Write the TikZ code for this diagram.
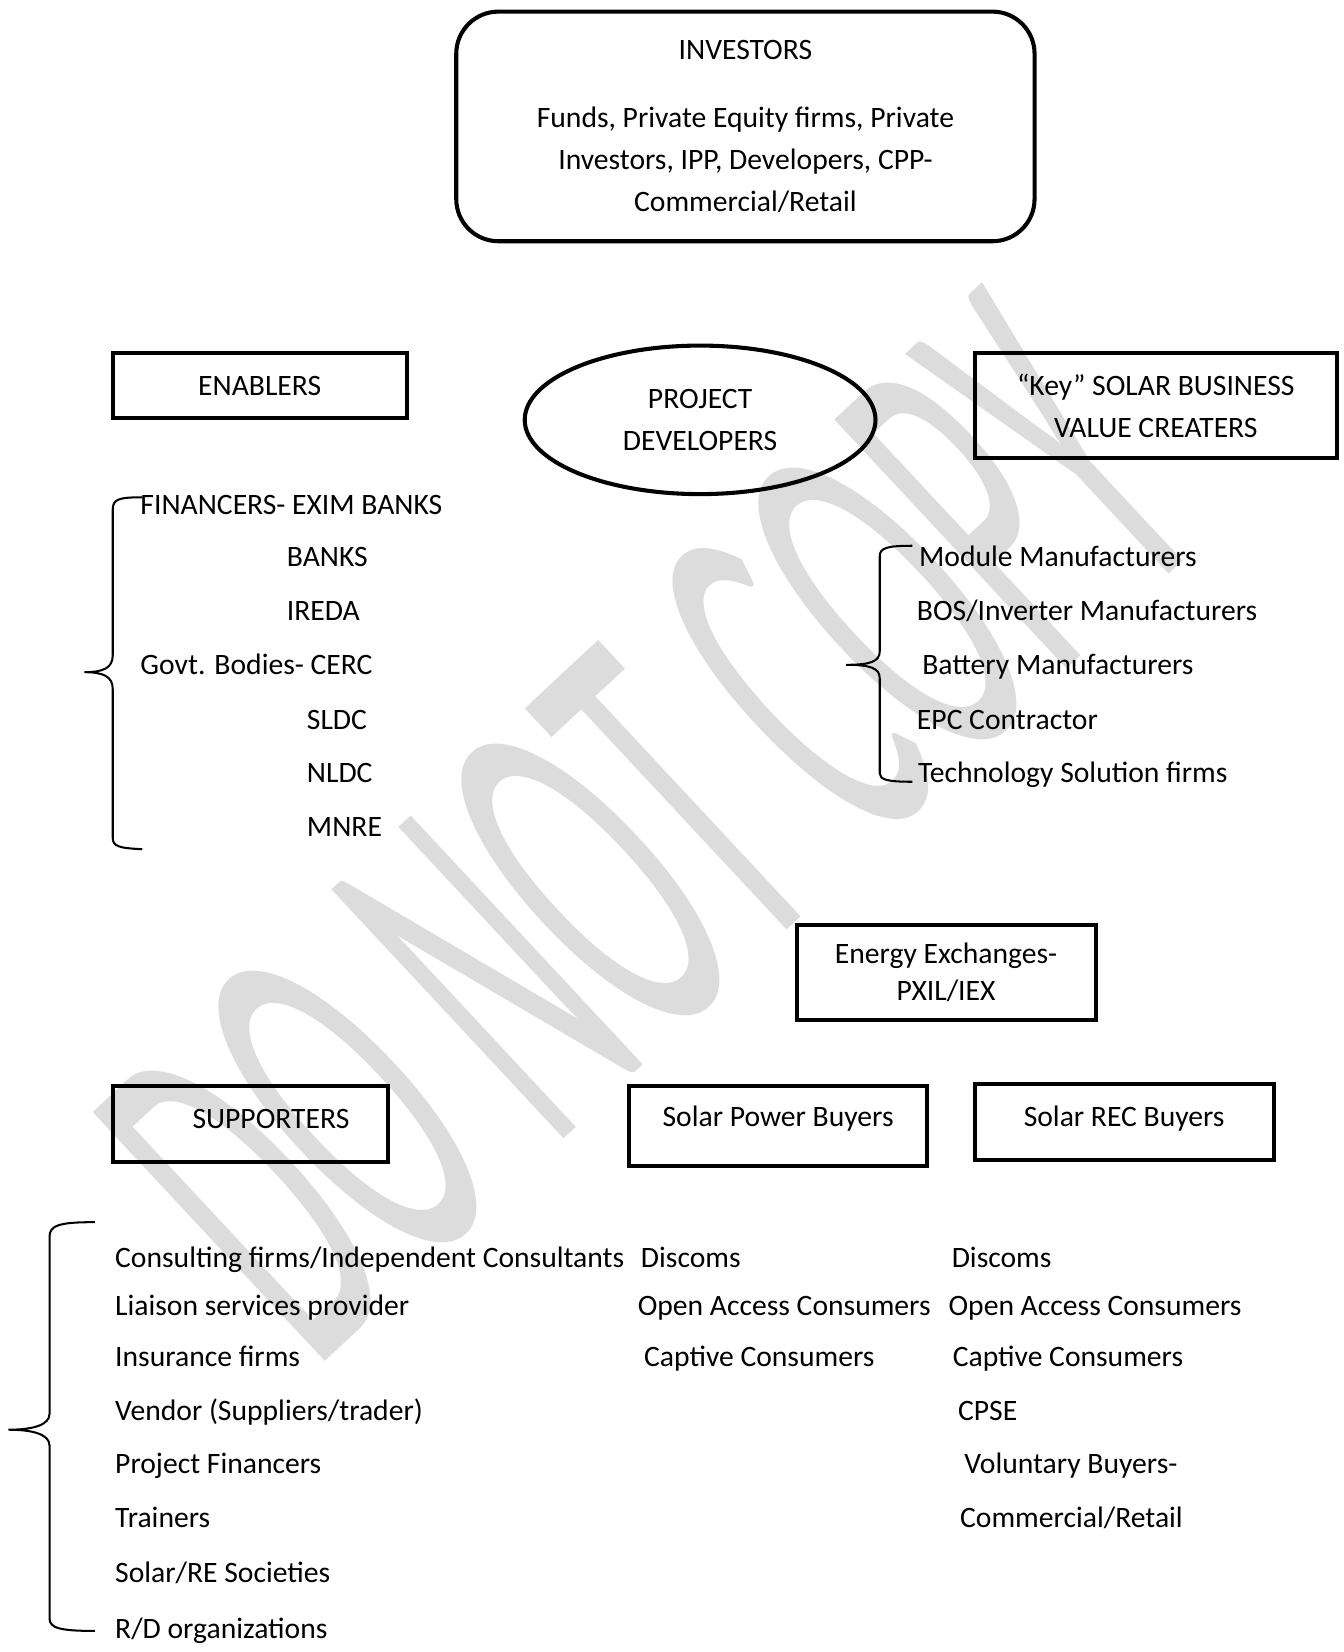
\documentclass[tikz,border=0pt]{standalone}
\usepackage{fontspec}
\setmainfont{Carlito}
\usetikzlibrary{shapes.geometric}
\definecolor{markgray}{RGB}{220,220,220}
\tikzset{
  box/.style={draw, line width=2.2pt, inner sep=0pt, align=center},
  item/.style={anchor=base west, inner sep=0pt},
  bracket/.style={line width=1.1pt}
}
\begin{document}
\begin{tikzpicture}[x=0.02cm, y=-0.02cm, font=\fontsize{16}{22.6}\selectfont]
\useasboundingbox (0,0) rectangle (1275,1568);
\begin{scope}[shift={(615,785)}, rotate=43, yscale=2.45]
\node[transform shape, text=markgray, font=\fontsize{117}{117}\selectfont] (mark) at (0,0) {DO NOT COPY};
\end{scope}
\node[box, rounded corners=0.8cm, minimum width=10.98cm, minimum height=4.36cm] (investors) at (707.5,120) {INVESTORS\\[0.5cm]Funds, Private Equity firms, Private\\Investors, IPP, Developers, CPP-\\Commercial/Retail};
\node[box, minimum width=5.58cm, minimum height=1.24cm] (enablers) at (246.5,366) {ENABLERS};
\node[draw, ellipse, line width=2.2pt, inner sep=0pt, minimum width=6.66cm, minimum height=2.82cm, align=center] (developers) at (664.5,398.5) {PROJECT\\DEVELOPERS};
\node[box, minimum width=6.88cm, minimum height=2cm] (keyvalue) at (1097,385) {“Key” SOLAR BUSINESS\\VALUE CREATERS};
\node[box, minimum width=5.68cm, minimum height=1.8cm] (exchanges) at (898,923) {Energy Exchanges-\\[-0.1cm]PXIL/IEX};
\node[box, minimum width=5.22cm, minimum height=1.44cm] (supporters) at (237.5,1067) {\raisebox{3pt}[\height][\depth]{\hspace*{1.4em}SUPPORTERS}};
\node[box, minimum width=5.66cm, minimum height=1.52cm] (powerbuyers) at (738.5,1069) {\raisebox{4pt}[\height][\depth]{Solar Power Buyers}};
\node[box, minimum width=5.68cm, minimum height=1.44cm] (recbuyers) at (1067,1065) {\raisebox{2pt}[\height][\depth]{Solar REC Buyers}};
\node[item] (en1) at (133,488) {FINANCERS- EXIM BANKS};
\node[item] (en2) at (272,538) {BANKS};
\node[item] (en3) at (272,589) {IREDA};
\node[item] (en4) at (133,640) {Govt. Bodies- CERC};
\node[item] (en5) at (291,692) {SLDC};
\node[item] (en6) at (291,743) {NLDC};
\node[item] (en7) at (291,794) {MNRE};
\node[item] (kv1) at (872,538) {Module Manufacturers};
\node[item] (kv2) at (870,589) {BOS/Inverter Manufacturers};
\node[item] (kv3) at (875,640) {Battery Manufacturers};
\node[item] (kv4) at (870,692) {EPC Contractor};
\node[item] (kv5) at (871,743) {Technology Solution firms};
\node[item] (su1) at (109,1203) {Consulting firms/Independent Consultants};
\node[item] (su2) at (109,1249) {Liaison services provider};
\node[item] (su3) at (109,1297) {Insurance firms};
\node[item] (su4) at (109,1348) {Vendor (Suppliers/trader)};
\node[item] (su5) at (109,1399) {Project Financers};
\node[item] (su6) at (109,1450) {Trainers};
\node[item] (su7) at (109,1502) {Solar/RE Societies};
\node[item] (su8) at (109,1555) {R/D organizations};
\node[item] (pb1) at (608,1203) {Discoms};
\node[item] (pb2) at (605,1249) {Open Access Consumers};
\node[item] (pb3) at (611,1297) {Captive Consumers};
\node[item] (rb1) at (903,1203) {Discoms};
\node[item] (rb2) at (900,1249) {Open Access Consumers};
\node[item] (rb3) at (904,1297) {Captive Consumers};
\node[item] (rb4) at (909,1348) {CPSE};
\node[item] (rb5) at (915,1399) {Voluntary Buyers-};
\node[item] (rb6) at (911,1450) {Commercial/Retail};
\draw[bracket] (135,472) .. controls (112,472) and (107,474) .. (107,484) -- (107,622) .. controls (107,634) and (98,638) .. (80,638) .. controls (98,638) and (107,642) .. (107,654) -- (107,795) .. controls (107,803) and (112,805) .. (135,806);
\draw[bracket] (866,518) .. controls (842,518) and (835,520) .. (835,528) -- (835,618) .. controls (835,628) and (826,631) .. (803,631) .. controls (826,631) and (835,634) .. (835,644) -- (835,734) .. controls (835,740) and (842,742) .. (866,742);
\draw[bracket] (90,1160) .. controls (56,1160) and (47,1163) .. (47,1174) -- (47,1342) .. controls (47,1353) and (30,1357) .. (8,1357) .. controls (30,1357) and (47,1361) .. (47,1372) -- (47,1536) .. controls (47,1545) and (56,1548) .. (90,1548);
\end{tikzpicture}
\end{document}
